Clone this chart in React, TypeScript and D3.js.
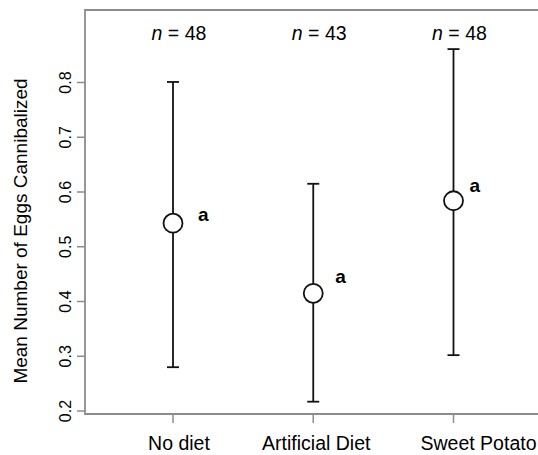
import React from "react";
import * as d3 from "d3";

const categories = ["No diet", "Artificial Diet", "Sweet Potato"];
const means = [0.543, 0.415, 0.584];
const upper = [0.801, 0.615, 0.861];
const lower = [0.28, 0.217, 0.302];
const nLabels = ["48", "43", "48"];
const groupLetters = ["a", "a", "a"];
const yTicks = [0.2, 0.3, 0.4, 0.5, 0.6, 0.7, 0.8];
const yTitle = "Mean Number of Eggs Cannibalized";

const W = 538;
const H = 455;
const FONT = "'Liberation Sans', Arial, Helvetica, sans-serif";

// layout constants
const plotLeft = 85;
const plotTop = 10;
const plotBottom = 414;
const plotRight = 541;
const letterDx = [25, 22, 16];
const letterDy = [-2, -10, -9];
const labelDx = [6, 3, 27];

export default function App() {
  const x = d3.scaleLinear().domain([1, 3]).range([173, 453.5]);
  const y = d3.scaleLinear().domain([0.2, 0.8]).range([411, 82.5]);
  const axisColor = "#8c8c8c";
  const idx = d3.range(categories.length);

  return (
    <svg
      width={W}
      height={H}
      style={{ position: "absolute", left: 0, top: 0, background: "#fff" }}
      fontFamily={FONT}
    >
      <rect x={0} y={0} width={W} height={H} fill="#fff" />
      {/* box */}
      <path
        d={`M${plotRight},${plotTop}H${plotLeft}V${plotBottom}H${plotRight}`}
        fill="none"
        stroke={axisColor}
        strokeWidth={1.8}
      />
      {/* y ticks */}
      {yTicks.map((t) => (
        <g key={t}>
          <line x1={plotLeft - 8} x2={plotLeft} y1={y(t)} y2={y(t)} stroke={axisColor} strokeWidth={1.5} />
          <text
            transform={`translate(71,${y(t)}) rotate(-90)`}
            textAnchor="middle"
            fontSize={16}
            fill="#000"
          >
            {d3.format(".1f")(t)}
          </text>
        </g>
      ))}
      {/* y title */}
      <text
        transform={`translate(27,231) rotate(-90)`}
        textAnchor="middle"
        fontSize={19}
        fill="#000"
      >
        {yTitle}
      </text>
      {/* x ticks and labels */}
      {idx.map((i) => (
        <g key={categories[i]}>
          <line x1={x(i + 1)} x2={x(i + 1)} y1={plotBottom} y2={plotBottom + 9} stroke={axisColor} strokeWidth={1.5} />
          <text
            x={i === categories.length - 1 ? x(i + 1) - 33 : x(i + 1) + labelDx[i]}
            y={450}
            textAnchor={i === categories.length - 1 ? "start" : "middle"}
            fontSize={19.5}
            fill="#000"
          >
            {categories[i]}
          </text>
        </g>
      ))}
      {/* n labels */}
      {idx.map((i) => (
        <text key={"n" + i} x={x(i + 1) + 6} y={40} textAnchor="middle" fontSize={19.5} fill="#000">
          <tspan fontStyle="italic">n</tspan>
          <tspan> = {nLabels[i]}</tspan>
        </text>
      ))}
      {/* error bars */}
      {idx.map((i) => {
        const cx = x(i + 1);
        return (
          <g key={"e" + i} stroke="#111" strokeWidth={1.8}>
            <line x1={cx} x2={cx} y1={y(upper[i])} y2={y(lower[i])} />
            <line x1={cx - 6} x2={cx + 6} y1={y(upper[i])} y2={y(upper[i])} />
            <line x1={cx - 6} x2={cx + 6} y1={y(lower[i])} y2={y(lower[i])} />
            <circle cx={cx} cy={y(means[i])} r={9.5} fill="#fff" />
          </g>
        );
      })}
      {/* letters */}
      {idx.map((i) => (
        <text
          key={"l" + i}
          x={x(i + 1) + letterDx[i]}
          y={y(means[i]) + letterDy[i]}
          fontSize={19}
          fontWeight="bold"
          fill="#000"
        >
          {groupLetters[i]}
        </text>
      ))}
    </svg>
  );
}
